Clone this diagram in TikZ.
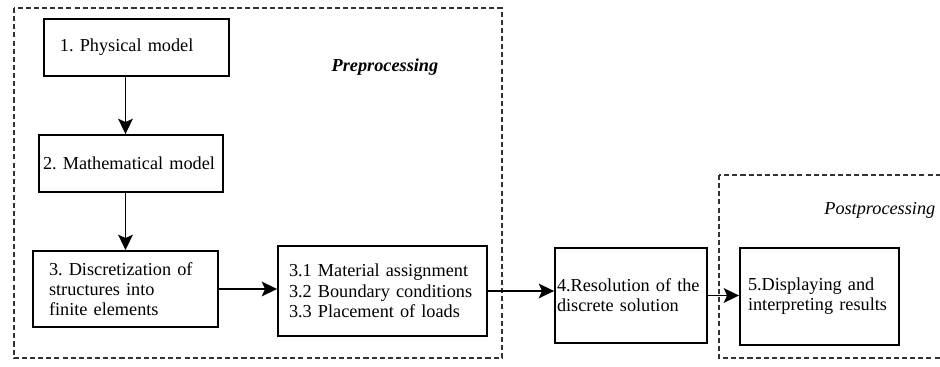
\documentclass[tikz,border=0pt]{standalone}
\usepackage{fontspec}
\setmainfont{Liberation Serif}
\usetikzlibrary{arrows.meta}

\tikzset{
    stage/.style={draw, line width=1.4pt, align=left, inner ysep=0pt,
        font=\fontsize{13.7}{15.2}\selectfont\frenchspacing,
        execute at begin node={\hyphenpenalty=10000\relax}},
    flow/.style={line width=1.3pt, -{Stealth[length=11.5pt, width=11pt, inset=2.5pt]}},
    phase/.style={draw=black!80, line width=1.3pt, dash pattern=on 3.8pt off 2.3pt},
}

\begin{document}
\begin{tikzpicture}[x=0.75pt, y=-0.75pt]
            \useasboundingbox (0, 0) rectangle (940, 367);
            \clip (0, 0) rectangle (940, 367);
            % dashed phase frames
            \draw[phase] (14, 8) rectangle (502, 358);
            \draw[phase] (719, 175) rectangle (960, 358);
            \node[font=\fontsize{13.7}{16}\selectfont\bfseries\itshape] (pre) at (385, 67) {Preprocessing};
            \node[font=\fontsize{13.7}{16}\selectfont\itshape, anchor=east] (post) at (940, 210) {Postprocessing};
            % stages
            \node[stage, text width=153*0.75pt, inner xsep=16*0.75pt, minimum height=57*0.75pt] (b1) at (136.5, 47.5) {1. Physical model};
            \node[stage, text width=176*0.75pt, inner xsep=4*0.75pt, minimum height=57*0.75pt] (b2) at (131, 163.5) {2. Mathematical model};
            \node[stage, text width=153*0.75pt, inner xsep=16*0.75pt, minimum height=76*0.75pt] (b3) at (125.5, 289) {3. Discretization of\\structures into\\finite elements};
            \node[stage, text width=187*0.75pt, inner xsep=11*0.75pt, minimum height=90*0.75pt] (b3x) at (382.5, 291) {3.1 Material assignment\\3.2 Boundary conditions\\3.3 Placement of loads};
            \node[stage, text width=148*0.75pt, inner xsep=2*0.75pt, minimum height=95*0.75pt] (b4) at (631, 295.5) {4.Resolution of the\\discrete solution};
            \node[stage, text width=143*0.75pt, inner xsep=8*0.75pt, minimum height=97*0.75pt] (b5) at (819.5, 296.5) {5.Displaying and\\interpreting results};
            % connectors
            \draw[flow] (b1.south -| b3.north) -- (b2.north -| b3.north);
            \draw[flow] (b2.south -| b3.north) -- (b3.north);
            \draw[flow] (b3.east) -- (b3.east -| b3x.west);
            \draw[flow] (b3x.east) -- (b3x.east -| b4.west);
            \draw[flow] (b4.east) -- (b4.east -| b5.west);
        \end{tikzpicture}
\end{document}
